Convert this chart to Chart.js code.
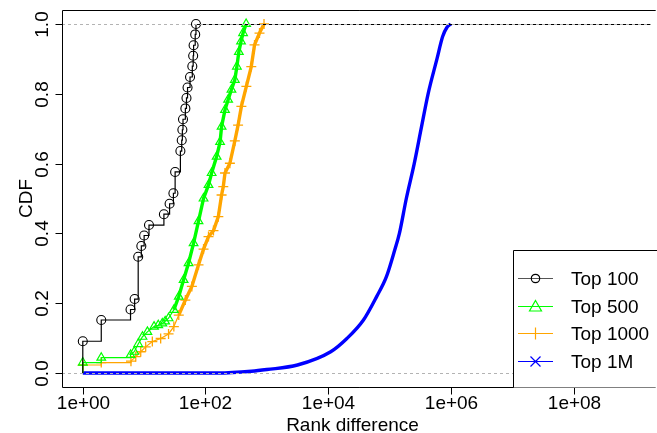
<!DOCTYPE html>
<html>
<head>
<meta charset="utf-8">
<script src="https://cdn.jsdelivr.net/npm/chart.js@4.4.1/dist/chart.umd.min.js"></script>
<style>
html, body { margin: 0; padding: 0; background: #fff; }
canvas { display: block; }
</style>
</head>
<body>
<canvas id="cdf" width="657" height="433"></canvas>
<script>
// axis ticks
const xTickValues = [1, 1e2, 1e4, 1e6, 1e8];
const xTickLabels = ['1e+00', '1e+02', '1e+04', '1e+06', '1e+08'];
const yTickValues = [0, 0.2, 0.4, 0.6, 0.8, 1.0];
const yTickLabels = ['0.0', '0.2', '0.4', '0.6', '0.8', '1.0'];

const seriesNames = ['Top 100', 'Top 500', 'Top 1000', 'Top 1M'];
const seriesColors = ['#000000', '#00ff00', '#ffa500', '#0000ff'];

// ECDF (rank difference, cumulative fraction)
const top100X = [1, 2, 6, 7, 8, 9, 10, 12, 21, 26, 30, 32, 39, 41, 42, 43, 47, 49, 51, 56, 61, 63, 64, 68, 70];
const top100Y = [0.091, 0.152, 0.182, 0.212, 0.333, 0.364, 0.394, 0.424, 0.455, 0.485, 0.515, 0.576, 0.636, 0.667,
                 0.697, 0.727, 0.758, 0.788, 0.818, 0.848, 0.879, 0.909, 0.939, 0.970, 1.0];

// a repeated y marks the corner of a flat step (no marker there)
const top500X = [1, 1, 2, 2, 6, 6, 6.9, 8, 9.4, 11.3, 14.5, 17, 19.8, 22, 25, 30.5, 36.7, 44, 53, 64, 77, 93, 112,
                 126, 152, 173, 183, 208, 234, 265, 301, 325, 350, 380, 410, 460];
const top500Y = [0, 0.030, 0.030, 0.044, 0.044, 0.052, 0.061, 0.083, 0.104, 0.118, 0.133, 0.137, 0.142, 0.148,
                 0.157, 0.181, 0.219, 0.267, 0.315, 0.372, 0.435, 0.500, 0.539, 0.573, 0.620, 0.662, 0.706, 0.754,
                 0.783, 0.812, 0.840, 0.878, 0.920, 0.950, 0.974, 1.0];

const top1000X = [1, 1, 2, 2, 6.1, 6.1, 7.3, 8.8, 10.6, 13.6, 18.6, 25, 30.5, 36.7, 47, 60, 77, 93, 112, 135, 162,
                  183, 195, 208, 250, 301, 340, 385, 464, 558, 630, 760, 900];
const top1000Y = [0, 0.023, 0.023, 0.030, 0.030, 0.034, 0.047, 0.061, 0.075, 0.090, 0.099, 0.112, 0.133, 0.166,
                  0.209, 0.248, 0.310, 0.355, 0.391, 0.408, 0.448, 0.510, 0.534, 0.573, 0.601, 0.665, 0.710, 0.764,
                  0.821, 0.878, 0.940, 0.974, 1.0];

const top1MX = [1, 160, 560, 1000, 3160, 11000, 20200, 37600, 61700, 89100, 122000, 145000, 188000, 253000, 328000,
                426000, 594000, 735000, 861000, 1000000];
const top1MY = [0, 0, 0.005, 0.010, 0.023, 0.061, 0.099, 0.152, 0.219, 0.276, 0.353, 0.40, 0.50, 0.60, 0.70,
                0.80, 0.90, 0.964, 0.99, 1.0];

const FONT = '19px "Liberation Sans", Arial, sans-serif';

function pts(xs, ys) {
    return xs.map((x, i) => ({ x: x, y: ys[i] }));
}

// marker only where the curve rises
function markerAt(ys, r) {
    return c => (c.dataIndex === 0 || ys[c.dataIndex] === ys[c.dataIndex - 1] ? 0 : r);
}

// wider band where markers pile up
const bandWidth = ctx => (ctx.p0.parsed.y > 0.16 ? 3.4 : 1.2);

const datasets = [
    {
        label: seriesNames[0],
        data: [{ x: top100X[0], y: 0 }].concat(pts(top100X, top100Y)),
        borderColor: seriesColors[0],
        borderWidth: 1.2,
        stepped: true,
        pointStyle: 'circle',
        pointRadius: c => (c.dataIndex === 0 ? 0 : 4.5),
        pointBorderWidth: 1.1,
        pointBorderColor: seriesColors[0],
        pointBackgroundColor: 'rgba(0,0,0,0)'
    },
    {
        label: seriesNames[1],
        data: pts(top500X, top500Y),
        borderColor: seriesColors[1],
        borderWidth: 1.2,
        segment: { borderWidth: bandWidth },
        pointStyle: 'triangle',
        pointRadius: markerAt(top500Y, 5),
        pointBorderWidth: 1.2,
        pointBorderColor: seriesColors[1],
        pointBackgroundColor: 'rgba(0,0,0,0)'
    },
    {
        label: seriesNames[2],
        data: pts(top1000X, top1000Y),
        borderColor: seriesColors[2],
        borderWidth: 1.2,
        segment: { borderWidth: bandWidth },
        pointStyle: 'cross',
        pointRadius: markerAt(top1000Y, 5),
        pointBorderWidth: 1.3,
        pointBorderColor: seriesColors[2],
        pointBackgroundColor: 'rgba(0,0,0,0)'
    },
    {
        label: seriesNames[3],
        data: pts(top1MX, top1MY),
        borderColor: seriesColors[3],
        borderWidth: 3.4,
        cubicInterpolationMode: 'monotone',
        pointRadius: 0
    }
];

function drawMarker(ctx, style, x, y, color) {
    ctx.save();
    ctx.strokeStyle = color;
    ctx.lineWidth = 1.2;
    ctx.beginPath();
    if (style === 'circle') {
        ctx.arc(x, y, 4.2, 0, Math.PI * 2);
    } else if (style === 'triangle') {
        ctx.moveTo(x, y - 6);
        ctx.lineTo(x + 6, y + 4.5);
        ctx.lineTo(x - 6, y + 4.5);
        ctx.closePath();
    } else if (style === 'cross') {
        ctx.moveTo(x - 6, y); ctx.lineTo(x + 6, y);
        ctx.moveTo(x, y - 6); ctx.lineTo(x, y + 6);
    } else {
        ctx.moveTo(x - 5, y - 5); ctx.lineTo(x + 5, y + 5);
        ctx.moveTo(x - 5, y + 5); ctx.lineTo(x + 5, y - 5);
    }
    ctx.stroke();
    ctx.restore();
}

const rStyle = {
    id: 'rStyle',
    afterDatasetsDraw(chart) {
        const { ctx, chartArea: a, scales: { x, y } } = chart;
        ctx.save();
        ctx.beginPath();
        ctx.rect(a.left, a.top, a.right - a.left, a.bottom - a.top);
        ctx.clip();
        // Top 100 step continues to the right at 1
        const lastX = x.getPixelForValue(top100X[top100X.length - 1]);
        const oneY = Math.round(y.getPixelForValue(1)) + 0.5;
        ctx.strokeStyle = '#000';
        ctx.lineWidth = 1.2;
        ctx.beginPath();
        ctx.moveTo(lastX, oneY);
        ctx.lineTo(a.right, oneY);
        ctx.stroke();
        // reference lines at 0 and 1
        ctx.strokeStyle = '#b3b3b3';
        ctx.lineWidth = 1.2;
        ctx.setLineDash([3, 3]);
        [0, 1].forEach(v => {
            const py = Math.round(y.getPixelForValue(v)) + 0.5;
            ctx.beginPath();
            ctx.moveTo(a.left, py);
            ctx.lineTo(a.right, py);
            ctx.stroke();
        });
        ctx.restore();
    },
    afterDraw(chart) {
        const { ctx, chartArea: a, scales: { x, y } } = chart;
        ctx.save();
        ctx.strokeStyle = '#000';
        ctx.lineWidth = 1;
        // box (right side runs off the canvas)
        const L = a.left + 0.5, T = a.top + 0.5, B = a.bottom + 0.5;
        ctx.beginPath();
        ctx.moveTo(a.right + 5, T); ctx.lineTo(L, T); ctx.lineTo(L, B); ctx.lineTo(a.right + 5, B);
        ctx.stroke();

        ctx.fillStyle = '#000';
        ctx.font = FONT;
        // x axis
        ctx.textAlign = 'center';
        ctx.textBaseline = 'alphabetic';
        xTickValues.forEach((v, i) => {
            const px = Math.round(x.getPixelForValue(v)) + 0.5;
            ctx.beginPath();
            ctx.moveTo(px, B); ctx.lineTo(px, B + 7);
            ctx.stroke();
            ctx.fillText(xTickLabels[i], px, 409);
        });
        ctx.fillText('Rank difference', (a.left + 657) / 2 - 7, 431);
        // y axis
        yTickValues.forEach((v, i) => {
            const py = Math.round(y.getPixelForValue(v)) + 0.5;
            ctx.beginPath();
            ctx.moveTo(L, py); ctx.lineTo(L - 7, py);
            ctx.stroke();
            ctx.save();
            ctx.translate(48, py);
            ctx.rotate(-Math.PI / 2);
            ctx.fillText(yTickLabels[i], 0, 0);
            ctx.restore();
        });
        ctx.save();
        ctx.translate(32, (a.top + a.bottom) / 2);
        ctx.rotate(-Math.PI / 2);
        ctx.fillText('CDF', 0, 0);
        ctx.restore();

        // legend
        const lx = 513.5, ly = 250.5;
        ctx.fillStyle = '#fff';
        ctx.fillRect(lx, ly, 200, B - ly);
        ctx.beginPath();
        ctx.moveTo(lx + 200, ly); ctx.lineTo(lx, ly); ctx.lineTo(lx, B);
        ctx.stroke();
        const styles = ['circle', 'triangle', 'cross', 'crossRot'];
        const legendLine = ['#555555', seriesColors[1], seriesColors[2], seriesColors[3]];
        ctx.textAlign = 'left';
        seriesNames.forEach((name, i) => {
            const cy = 278 + i * 27.5;
            ctx.strokeStyle = legendLine[i];
            ctx.lineWidth = 1;
            ctx.beginPath();
            ctx.moveTo(518, Math.round(cy) + 0.5); ctx.lineTo(553, Math.round(cy) + 0.5);
            ctx.stroke();
            drawMarker(ctx, styles[i], 535.5, Math.round(cy) + 0.5, seriesColors[i]);
            ctx.fillStyle = '#000';
            ctx.fillText(name, 571, cy + 7);
        });
        ctx.restore();
    }
};

new Chart(document.getElementById('cdf'), {
    type: 'scatter',
    data: { datasets: datasets.map(d => Object.assign({ showLine: true, fill: false }, d)) },
    options: {
        responsive: false,
        animation: false,
        layout: { padding: { left: 62, top: 10, right: 0, bottom: 46 } },
        scales: {
            x: { type: 'logarithmic', display: false, min: Math.pow(10, -0.339), max: Math.pow(10, 9.258) },
            y: { type: 'linear', display: false, min: -0.04, max: 1.04 }
        },
        plugins: { legend: { display: false }, tooltip: { enabled: false } }
    },
    plugins: [rStyle]
});
</script>
</body>
</html>
